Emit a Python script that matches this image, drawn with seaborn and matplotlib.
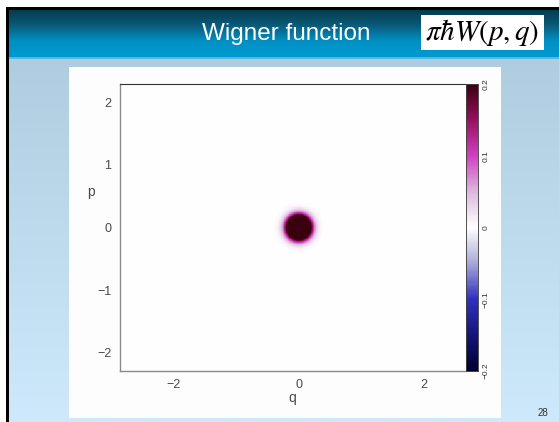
import numpy as np
import pandas as pd
import matplotlib
matplotlib.use("Agg")
import matplotlib.pyplot as plt
import seaborn as sns
from matplotlib.colors import LinearSegmentedColormap
from matplotlib.ticker import MultipleLocator

sns.set_theme(style="white")
plt.rcParams["font.family"] = ["Liberation Sans", "DejaVu Sans"]
plt.rcParams["mathtext.fontset"] = "stix"

# ---- phase-space window and state parameters ----
q_range = [-2.87, 2.66]
p_range = [-2.29, 2.29]
grid_step = 0.01
center_q, center_p = 0.0, 0.0
hbar = 0.025          # vacuum state: pi*hbar*W = exp(-(q^2+p^2)/hbar)
peak = 1.0

# colour scale
c_limits = [-0.2, 0.2]
c_ticks = [-0.2, -0.1, 0.0, 0.1, 0.2]
c_ticklabels = ["\u22120.2", "\u22120.1", "0", "0.1", "0.2"]
c_stops = [-0.2, -0.15, -0.1, -0.05, 0.0, 0.05, 0.1, 0.15, 0.2]
c_colors = ["#00002e", "#15157a", "#3030c0", "#a8a8d8", "#ffffff",
            "#dcb8dc", "#d040c0", "#981060", "#3a0010"]

q_ticks = [-2, 0, 2]
q_ticklabels = ["\u22122", "0", "2"]
p_ticks = [-2, -1, 0, 1, 2]
p_ticklabels = ["\u22122", "\u22121", "0", "1", "2"]

title = "Wigner function"
formula = r"$\pi\hbar W(p,q)$"
page_number = "28"

# ---- grid of the Wigner function ----
nq = int(round((q_range[1] - q_range[0]) / grid_step))
np_ = int(round((p_range[1] - p_range[0]) / grid_step))
q_cent = q_range[0] + (np.arange(nq) + 0.5) * grid_step
p_cent = p_range[1] - (np.arange(np_) + 0.5) * grid_step   # top row first
Q, P = np.meshgrid(q_cent, p_cent)
W = peak * np.exp(-((Q - center_q) ** 2 + (P - center_p) ** 2) / hbar)
df = pd.DataFrame(W, index=np.round(p_cent, 3), columns=np.round(q_cent, 3))

cmap = LinearSegmentedColormap.from_list(
    "wigner",
    [((s - c_limits[0]) / (c_limits[1] - c_limits[0]), c) for s, c in zip(c_stops, c_colors)])

# ---- figure and slide background ----
W_PX, H_PX = 559, 422
fig = plt.figure(figsize=(W_PX / 100, H_PX / 100), dpi=100)
fig.patch.set_facecolor("white")

bg = fig.add_axes([0, 0, 1, 1])
bg.set_xlim(0, W_PX)
bg.set_ylim(H_PX, 0)
bg.axis("off")

header = LinearSegmentedColormap.from_list("hdr", ["#053a4c", "#0a5a78", "#0090c4", "#009ad0"])
body = LinearSegmentedColormap.from_list("body", ["#b0cce0", "#cde9fb"])
grad = np.linspace(0, 1, 256).reshape(-1, 1)
bg.imshow(grad, cmap=body, aspect="auto", extent=[9, W_PX, H_PX, 59], zorder=0)
bg.imshow(grad, cmap=header, aspect="auto", extent=[9, W_PX, 57, 9], zorder=0)
bg.add_patch(plt.Rectangle((9, 57), W_PX - 9, 2, color="#5ab6dc", zorder=1, lw=0))
bg.add_patch(plt.Rectangle((6, 7), W_PX - 6, 2.5, color="black", zorder=2, lw=0))
bg.add_patch(plt.Rectangle((6, 7), 3, H_PX - 7, color="black", zorder=2, lw=0))
bg.add_patch(plt.Rectangle((69, 67), 432, 351, color="#fdfdfd", zorder=1, lw=0))
bg.add_patch(plt.Rectangle((421, 15), 123, 35, color="white", zorder=2, lw=0))

bg.text(286, 34, title, color="white", fontsize=17.5, ha="center", va="center")
bg.text(482, 33, formula, color="black", fontsize=21, ha="center", va="center")
bg.text(543, 413, page_number, color="#333333", fontsize=7, ha="center", va="center")

# ---- heatmap ----
ax = fig.add_axes([119.5 / W_PX, 1 - 371 / H_PX, 345.5 / W_PX, 287 / H_PX])
cax = fig.add_axes([466 / W_PX, 1 - 371 / H_PX, 12 / W_PX, 287 / H_PX])

sns.heatmap(df, ax=ax, cbar_ax=cax, cmap=cmap, vmin=c_limits[0], vmax=c_limits[1],
            xticklabels=False, yticklabels=False, rasterized=True)

ax.set_xticks([(q - q_range[0]) / grid_step for q in q_ticks])
ax.set_xticklabels(q_ticklabels)
ax.set_yticks([(p_range[1] - p) / grid_step for p in p_ticks])
ax.set_yticklabels(p_ticklabels, rotation=0)
ax.tick_params(axis="both", direction="in", length=4.5, width=0.8, color="#333333",
               labelsize=9, labelcolor="#4a4a4a", pad=6)
ax.tick_params(axis="x", top=True, bottom=True)
ax.tick_params(axis="y", left=True, right=False)
for side in ["left", "bottom"]:
    ax.spines[side].set_visible(True)
    ax.spines[side].set_color("#8a8a8a")
    ax.spines[side].set_linewidth(1.0)
ax.spines["top"].set_visible(True)
ax.spines["top"].set_color("#333333")
ax.spines["top"].set_linewidth(0.8)
ax.spines["right"].set_visible(False)
ax.set_xlabel("q", fontsize=10, color="#4a4a4a", labelpad=0)
ax.set_ylabel("p", fontsize=10, color="#4a4a4a", rotation=0)
ax.yaxis.set_label_coords(-0.082, 0.60)

cax.set_yticks(c_ticks)
cax.set_yticklabels(c_ticklabels, rotation=90, va="center")
cax.yaxis.set_minor_locator(MultipleLocator(0.02))
cax.tick_params(axis="y", which="major", direction="in", length=5, width=0.6,
                color="#333333", labelsize=6, labelcolor="#333333", left=True, right=True, pad=3)
cax.tick_params(axis="y", which="minor", direction="in", length=2.5, width=0.5,
                color="#333333", left=True, right=True)
for s in cax.spines.values():
    s.set_visible(True)
    s.set_linewidth(0.5)
    s.set_color("#444444")

fig.savefig("out.png", dpi=100, facecolor=fig.get_facecolor())
